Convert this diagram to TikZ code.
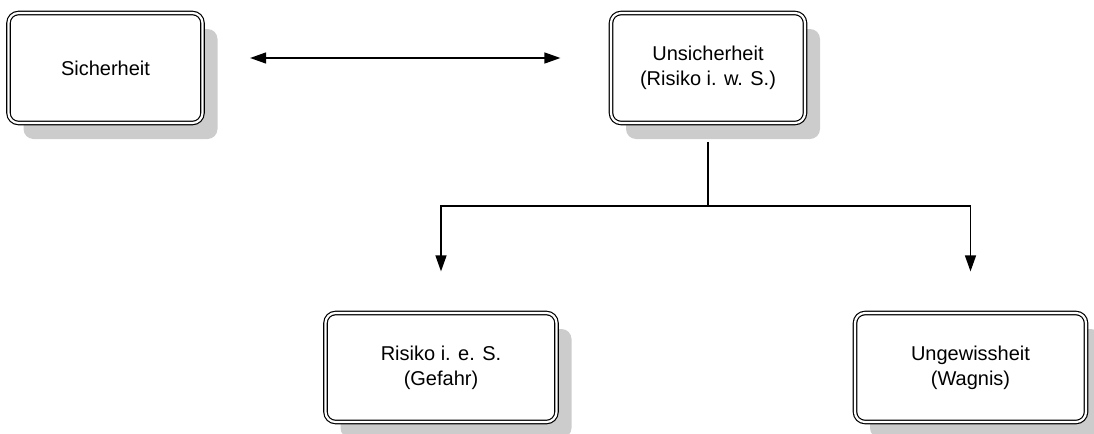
\documentclass[tikz,border=0pt]{standalone}
\usepackage{fontspec}
\setmainfont{Liberation Sans}
\usepackage{tikz}
\usetikzlibrary{positioning, shadows, arrows.meta}

\begin{document}
\begin{tikzpicture}[x=0.5pt, y=-0.5pt,
        box/.style={draw, double, line width=0.6pt, double distance=1.1pt,
                rounded corners=5pt, fill=white, align=center,
                font=\fontsize{10}{12.5}\selectfont,
                drop shadow={shadow xshift=7.5pt, shadow yshift=-8pt,
                        fill=black!20, opacity=1},
                minimum width=97pt, minimum height=55pt},
        widebox/.style={box, minimum width=115.5pt, minimum height=54.5pt},
        link/.style={line width=0.7pt},
        tip/.style={-{Triangle[length=8pt,width=5.5pt]}}]
        \useasboundingbox (0,0) rectangle (1094,434);
        \node[box] (sicherheit) at (105.5,68) {Sicherheit};
        \node[box] (unsicherheit) at (708,68) {Unsicherheit\\(Risiko i. w. S.)};
        \node[widebox] (risiko) at (441,367.5) {Risiko i. e. S.\\(Gefahr)};
        \node[widebox] (ungewissheit) at (970.5,367.5) {Ungewissheit\\(Wagnis)};
        \coordinate (branch) at (708,206);
        \draw[link, {Triangle[length=8pt,width=5.5pt]}-{Triangle[length=8pt,width=5.5pt]}]
                ([xshift=23.5pt,yshift=5pt]sicherheit.east) -- ([xshift=-25pt,yshift=5pt]unsicherheit.west);
        \draw[link] ([yshift=-9pt]unsicherheit.south) -- (branch);
        \draw[link, tip] (branch) -| ([yshift=20.5pt]risiko.north);
        \draw[link, tip] (branch) -| ([yshift=20.5pt]ungewissheit.north);
\end{tikzpicture}
\end{document}
